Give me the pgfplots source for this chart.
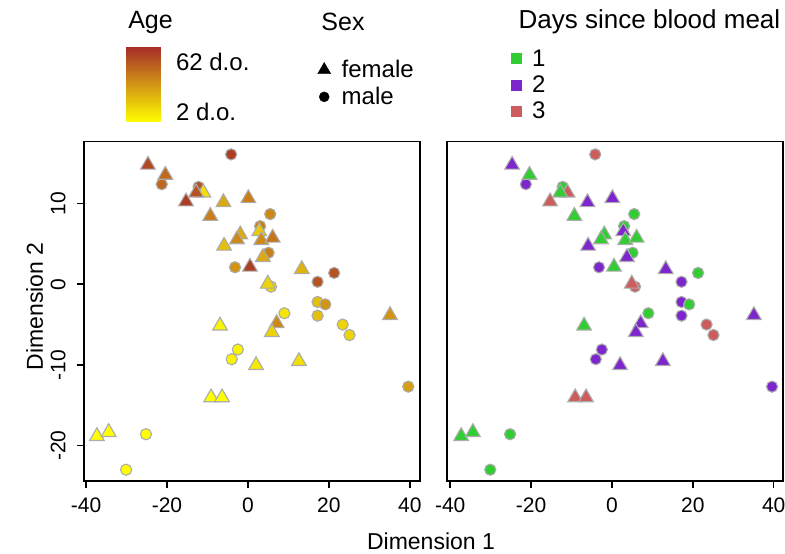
\documentclass[border=0pt]{standalone}
\usepackage{fontspec}
\setmainfont{Liberation Sans}
\usepackage{pgfplots}
\pgfplotsset{compat=1.18}
\usepackage{pgfplotstable}

\definecolor{outl}{RGB}{172,172,172}
\definecolor{cgreen}{RGB}{50,205,50}
\definecolor{cpurple}{RGB}{125,38,205}
\definecolor{cred}{RGB}{205,92,92}

% female samples (triangles): dim1, dim2, age (0 = 2 d.o., 1 = 62 d.o.), days since blood meal
\pgfplotstableread{
x y age day
-24.7 14.80 0.85 2
-20.4 13.55 0.70 1
-11.0 11.35 0.15 3
-12.8 11.35 0.80 1
-15.3 10.25 0.90 3
-6.05 10.15 0.40 2
0.1 10.65 0.60 2
-9.3 8.45 0.60 1
-1.9 6.15 0.40 1
-2.7 5.55 0.55 1
2.8 6.55 0.25 2
3.3 5.45 0.55 1
6.1 5.75 0.65 1
-5.9 4.75 0.30 2
3.7 3.35 0.40 2
0.5 2.15 0.90 1
13.3 1.85 0.35 2
4.9 0.05 0.20 3
7.1 -4.85 0.55 2
-6.9 -5.15 0.05 1
5.9 -5.95 0.20 2
35.1 -3.85 0.50 2
2.0 -10.05 0.10 2
12.6 -9.55 0.15 2
-9.1 -14.05 0.00 3
-6.4 -14.05 0.00 3
-37.3 -18.85 0.00 1
-34.4 -18.35 0.00 1
}\females

% male samples (circles)
\pgfplotstableread{
x y age day
-4.15 16.1 0.90 3
-21.3 12.4 0.70 2
-12.2 12.07 0.80 1
5.5 8.7 0.55 1
3.0 7.2 0.60 1
5.1 3.9 0.60 1
-3.2 2.1 0.50 2
21.3 1.4 0.80 1
17.2 0.3 0.80 2
5.7 -0.3 0.20 3
17.2 -2.2 0.30 2
19.1 -2.5 0.50 1
9.0 -3.6 0.12 1
17.2 -3.9 0.30 2
23.4 -5.0 0.20 3
25.1 -6.3 0.20 3
-2.5 -8.1 0.05 2
-4.0 -9.3 0.05 2
39.6 -12.7 0.45 2
-25.2 -18.6 0.00 1
-30.1 -23.0 0.00 1
}\males

\pgfplotsset{
  panel/.style={
    scale only axis, width=336pt, height=339.5pt,
    ymin=-24.4, ymax=17.7,
    xtick={-40,-20,...,40},
    tick align=outside, major tick length=7pt,
    xtick pos=bottom, ytick pos=left,
    axis line style={line width=1.5pt},
    tick style={line width=1.5pt, black},
    ticklabel style={font=\fontsize{21}{25}\selectfont},
    xticklabel style={yshift=-6pt},
    /pgf/number format/assume math mode=true,
    legend style={draw=none, fill=none, font=\fontsize{24}{28}\selectfont,
      row sep=4pt, column sep=9pt, inner sep=0pt, legend cell align=left},
  },
  tri/.style={only marks, mark=triangle*, mark size=8.5pt, mark options={line width=1.1pt}},
  dot/.style={only marks, mark=*, mark size=5.6pt, mark options={line width=1.1pt}},
}

\begin{document}
\begin{tikzpicture}
\useasboundingbox (-84pt,-73pt) rectangle (701pt,481pt);

% left panel: age
\begin{axis}[panel,
  at={(0pt,0pt)}, anchor=south west,
  xmin=-40.5, xmax=42.5,
  ytick={-20,-10,...,10},
  yticklabel style={xshift=-8pt, rotate=90, anchor=south},
  colormap={agemap}{rgb255=(255,255,0) rgb255=(165,42,42)},
  point meta min=0, point meta max=1,
  colorbar,
  colorbar/width=34pt,
  colorbar style={
    at={(34pt,359pt)}, anchor=south west,
    width=34pt, height=76pt,
    ytick={0.13,0.79}, yticklabels={2 d.o., 62 d.o.},
    axis line style={draw=none}, major tick length=0pt,
    tick style={draw=none},
    yticklabel style={font=\fontsize{24}{28}\selectfont, xshift=12pt},
  },
  legend style={at={(0.695,1.245)}, anchor=north west},
]
\addlegendimage{only marks, mark=triangle*, mark size=7.5pt, black}
\addlegendentry{female}
\addlegendimage{only marks, mark=*, mark size=5pt, black}
\addlegendentry{male}
\addplot[dot, scatter, point meta=explicit,
  scatter/use mapped color={draw=outl, fill=mapped color}, forget plot]
  table[x=x, y=y, meta=age] {\males};
\addplot[tri, scatter, point meta=explicit,
  scatter/use mapped color={draw=outl, fill=mapped color}, forget plot]
  table[x=x, y=y, meta=age] {\females};
\end{axis}

% right panel: days since blood meal
\begin{axis}[panel,
  at={(363pt,0pt)}, anchor=south west,
  xmin=-40.8, xmax=42.3,
  ytick=\empty,
  legend style={at={(0.19,1.277)}, anchor=north west},
]
\addlegendimage{only marks, mark=square*, mark size=5pt, cgreen}
\addlegendentry{1}
\addlegendimage{only marks, mark=square*, mark size=5pt, cpurple}
\addlegendentry{2}
\addlegendimage{only marks, mark=square*, mark size=5pt, cred}
\addlegendentry{3}
\addplot[dot, scatter, point meta=explicit symbolic,
  scatter/classes={1={fill=cgreen, draw=outl}, 2={fill=cpurple, draw=outl}, 3={fill=cred, draw=outl}},
  forget plot]
  table[x=x, y=y, meta=day] {\males};
\addplot[tri, scatter, point meta=explicit symbolic,
  scatter/classes={1={fill=cgreen, draw=outl}, 2={fill=cpurple, draw=outl}, 3={fill=cred, draw=outl}},
  forget plot]
  table[x=x, y=y, meta=day] {\females};
\end{axis}

\node[font=\fontsize{25}{30}\selectfont, anchor=base] at (66.5pt,452.7pt) {Age};
\node[font=\fontsize{25}{30}\selectfont, anchor=base] at (259pt,450pt) {Sex};
\node[font=\fontsize{26}{31}\selectfont, anchor=base] at (565.5pt,452.7pt) {Days since blood meal};
\node[font=\fontsize{23}{28}\selectfont, anchor=base] at (347pt,-69pt) {Dimension 1};
\node[font=\fontsize{23}{28}\selectfont, anchor=base, rotate=90] at (-41pt,174.5pt) {Dimension 2};
\end{tikzpicture}
\end{document}
